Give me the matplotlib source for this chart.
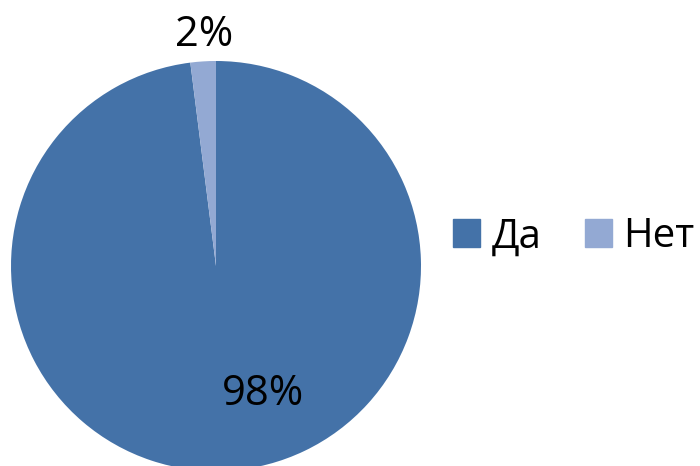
import matplotlib
matplotlib.use("Agg")
import matplotlib.pyplot as plt
import numpy as np

categories = ["Да", "Нет"]
values = [98, 2]
colors = ["#4472A8", "#93A9D3"]
pct_labels = ["98%", "2%"]

plt.rcParams['font.family'] = ['Open Sans', 'DejaVu Sans']

fig = plt.figure(figsize=(7, 4.66), dpi=100)
ax = fig.add_axes([11/700, -5/466, 410/700, 410/466])
wedges, _ = ax.pie(values, colors=colors, startangle=90, counterclock=False,
                   radius=1.0, wedgeprops=dict(linewidth=0))
ax.set_xlim(-1, 1)
ax.set_ylim(-1, 1)
ax.set_aspect('equal')
ax.axis('off')

# label positions (in radius units, relative to center)
label_pos = [(0.227, -0.678), (-0.056, 1.073)]
for lab, (x, y) in zip(pct_labels, label_pos):
    ax.text(x, y, lab, ha='center', va='baseline', fontsize=30, color='black')

handles = [plt.Rectangle((0, 0), 1, 1, color=c) for c in colors]
fig.legend(handles, categories, loc='center', bbox_to_anchor=(574/700, 1 - 237/466),
           ncol=2, frameon=False, fontsize=29, handlelength=0.67, handleheight=0.67,
           handletextpad=0.27, columnspacing=1.1, borderpad=0, borderaxespad=0)

fig.savefig("out.png", dpi=100)
